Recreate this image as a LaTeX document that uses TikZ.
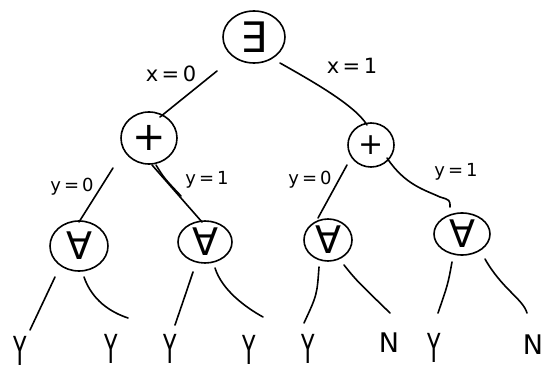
\documentclass[tikz,border=0pt]{standalone}
\usepackage{fontspec}
\setmainfont{DejaVu Sans}
\usetikzlibrary{shapes.geometric,calc}
\begin{document}
\begin{tikzpicture}[x=1pt,y=-1pt,
  ell/.style={ellipse,draw,line width=1.6pt,inner sep=0pt},
  edge/.style={line width=1.6pt,line cap=round,line join=round},
  lab/.style={inner sep=0pt,font=\fontsize{21}{21}\selectfont},
  ylab/.style={inner sep=0pt,font=\fontsize{18}{18}\selectfont},
  leaf/.style={inner sep=0pt,font=\fontsize{40}{40}\selectfont},
  nleaf/.style={inner sep=0pt,font=\fontsize{27}{27}\selectfont},
  sym/.style={font=\fontsize{38}{38}\selectfont}]
\useasboundingbox[fill=white] (0,0) rectangle (544,375);
% tree nodes
\node[ell,font=\fontsize{42}{42}\selectfont,minimum width=62pt,minimum height=52pt] (R) at (254,37) {∃};
\node[ell,font=\fontsize{40}{40}\selectfont,minimum width=56pt,minimum height=52pt] (P1) at (149,138) {+};
\node[ell,font=\fontsize{30}{30}\selectfont,minimum width=46pt,minimum height=44pt] (P2) at (371,145) {+};
\node[ell,sym,minimum width=58pt,minimum height=50pt] (A1) at (79,246) {∀};
\node[ell,sym,minimum width=54pt,minimum height=42pt] (A2) at (205,242) {∀};
\node[ell,sym,minimum width=48pt,minimum height=42pt] (A3) at (328,240) {∀};
\node[ell,sym,minimum width=56pt,minimum height=42pt] (A4) at (462,234) {∀};
% leaves
\node[leaf] (L1) at (20,351) {\scalebox{0.55}[1]{Y}};
\node[leaf] (L2) at (111,349) {\scalebox{0.55}[1]{Y}};
\node[leaf] (L3) at (170,349) {\scalebox{0.55}[1]{Y}};
\node[leaf] (L4) at (249,350) {\scalebox{0.55}[1]{Y}};
\node[leaf] (L5) at (308,349) {\scalebox{0.55}[1]{Y}};
\node[nleaf] (L6) at (389,343) {N};
\node[leaf] (L7) at (434,348) {\scalebox{0.55}[1]{Y}};
\node[nleaf] (L8) at (533,345) {N};
% labels
\node[lab] (lx0) at (171,74) {x\,=\,0};
\node[lab] (lx1) at (352,66) {x\,=\,1};
\node[ylab] (ly0a) at (72,187) {y\,=\,0};
\node[ylab] (ly1a) at (207,180) {y\,=\,1};
\node[ylab] (ly0b) at (310,180) {y\,=\,0};
\node[ylab] (ly1b) at (456,172) {y\,=\,1};
% edges level 1
\draw[edge] ($(R)+(-37,34)$) -- ($(P1)+(11,-21)$);
\draw[edge] ($(R)+(26,26)$) .. controls ($(R)+(56,43)$) and ($(P2)+(-16,-40)$) .. ($(P2)+(-4,-20)$);
% edges level 2
\draw[edge] ($(P1)+(-36,30)$) -- ($(A1)+(0,-24)$);
\draw[edge] ($(P1)+(3,27)$) -- ($(A2)+(-3,-20)$);
\draw[edge] ($(P1)+(7,27)$) .. controls ($(P1)+(15,40)$) .. ($(A2)+(-24,-46)$);
\draw[edge] ($(P2)+(-24,20)$) -- ($(A3)+(-10,-22)$);
\draw[edge] ($(P2)+(16,13)$) .. controls ($(P2)+(34,40)$) and ($(A4)+(-37,-44)$) .. ($(A4)+(-22,-37)$) .. controls ($(A4)+(-12,-34)$) .. ($(A4)+(-12,-27)$);
% edges to leaves
\draw[edge] ($(A1)+(-24,31)$) -- ($(L1)+(10,-21)$);
\draw[edge] ($(A1)+(5,31)$) .. controls ($(A1)+(13,54)$) and ($(L2)+(-1,-37)$) .. ($(L2)+(17,-31)$);
\draw[edge] ($(A2)+(-12,30)$) .. controls ($(A2)+(-17,45)$) .. ($(L3)+(5,-24)$);
\draw[edge] ($(A2)+(10,26)$) .. controls ($(A2)+(17,48)$) and ($(L4)+(-4,-43)$) .. ($(L4)+(14,-33)$);
\draw[edge] ($(A3)+(-9,27)$) .. controls ($(A3)+(-11,55)$) .. ($(L5)+(-4,-26)$);
\draw[edge] ($(A3)+(16,25)$) .. controls ($(A3)+(28,40)$) .. ($(L6)+(1,-30)$);
\draw[edge] ($(A4)+(-10,28)$) .. controls ($(A4)+(-14,50)$) .. ($(L7)+(4,-35)$);
\draw[edge] ($(A4)+(23,25)$) .. controls ($(A4)+(40,55)$) and ($(L8)+(-10,-46)$) .. ($(L8)+(-6,-32)$);
\end{tikzpicture}
\end{document}
